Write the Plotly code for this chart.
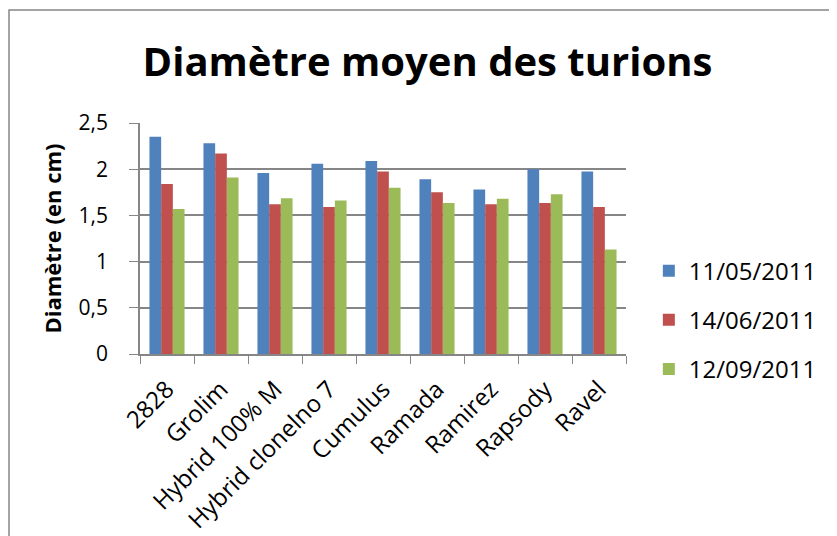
import plotly.graph_objects as go

categories = ["2828", "Grolim", "Hybrid 100% M", "Hybrid clonelno 7", "Cumulus",
              "Ramada", "Ramirez", "Rapsody", "Ravel"]
series_names = ["11/05/2011", "14/06/2011", "12/09/2011"]
s1 = [2.35, 2.28, 1.96, 2.06, 2.09, 1.89, 1.78, 2.00, 1.975]
s2 = [1.84, 2.17, 1.62, 1.59, 1.975, 1.75, 1.62, 1.635, 1.59]
s3 = [1.57, 1.91, 1.685, 1.66, 1.80, 1.635, 1.68, 1.73, 1.13]
colors = ["#4F81BD", "#C0504D", "#9BBB59"]

fig = go.Figure()
for name, vals, col in zip(series_names, [s1, s2, s3], colors):
    fig.add_trace(go.Bar(x=categories, y=vals, name=name, marker_color=col,
                         marker_line_width=0, legendgroup=name))

FONT = "Open Sans"
# page body adds an 8px margin; figure sized to fit inside the window
W, H = 829, 528
L, R, T, B = 132, 211, 115, 182
PW, PH = W - L - R, H - T - B

fig.update_layout(
    width=W, height=H,
    margin=dict(l=L, r=R, t=T, b=B, autoexpand=False),
    paper_bgcolor="white", plot_bgcolor="white",
    separators=", ",
    barmode="group", bargap=0.35, bargroupgap=0,
    font=dict(family=FONT, color="black"),
    title=dict(text="<b>Diamètre moyen des turions</b>", x=0.506, xanchor="center",
               y=0.898, yanchor="middle", font=dict(size=40, family=FONT)),
    legend=dict(x=1.047, xanchor="left", y=0.147, yanchor="middle",
                font=dict(size=24, family=FONT), tracegroupgap=15,
                itemwidth=30),
    showlegend=True,
)
fig.update_yaxes(range=[0, 2.5], dtick=0.5, showgrid=True, gridcolor="#868686",
                 gridwidth=1.5, showline=True, linecolor="#868686", linewidth=1.5,
                 ticks="outside", ticklen=9, tickcolor="#868686", ticklabelstandoff=17,
                 tickfont=dict(size=21), zeroline=False,
                 title=dict(text="<b>Diamètre (en cm)</b>", font=dict(size=22), standoff=11))
fig.update_xaxes(showline=True, linecolor="#868686", linewidth=1.5,
                 ticks="outside", ticklen=8, tickcolor="#868686", tickson="boundaries",
                 tickangle=-45, tickfont=dict(size=24), ticklabelstandoff=10)
fig.add_shape(type="rect", xref="paper", yref="paper",
              x0=-(L - 1) / PW, x1=(W + 20 - L) / PW,
              y0=-(B + 20) / PH, y1=(PH + T - 2) / PH,
              line=dict(color="#868686", width=1.5))
fig.write_html("out.html")
